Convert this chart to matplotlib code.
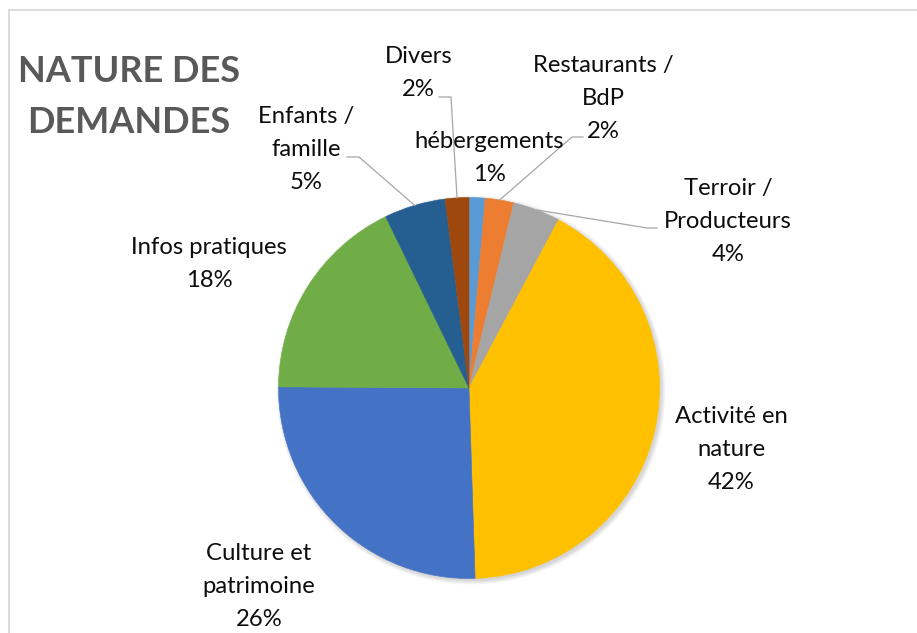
import numpy as np
import matplotlib.pyplot as plt
from matplotlib.patches import Circle

plt.rcParams['font.family'] = ['Lato', 'DejaVu Sans']

# data (share of requests, in %)
categories = ['hébergements', 'Restaurants /\nBdP', 'Terroir /\nProducteurs', 'Activité en\nnature',
              'Culture et\npatrimoine', 'Infos pratiques', 'Enfants /\nfamille', 'Divers']
values = [1.36, 2.42, 4.0, 41.7, 25.6, 17.7, 5.2, 2.0]
colors = ['#5B9BD5', '#ED7D31', '#A5A5A5', '#FFC000', '#4472C4', '#70AD47', '#255E91', '#9E480E']
title_lines = ['NATURE DES', 'DEMANDES']

# layout, in pixels from the top-left corner
W, H = 917, 633
cx, cy, R = 469, 388, 190.5
label_pos = [(489.5, 148), (603, 72), (728, 195), (731, 423),
             (259, 560), (209, 254), (306, 123), (418.5, 63)]   # x centre, first baseline
elbows = [None, [(572, 137), (583, 137)], [(647, 228), (657, 228)], None,
          None, None, [(359, 157), (347, 157)], [(451, 97), (439, 97)]]
line_gap = 33

fig = plt.figure(figsize=(W / 100, H / 100), dpi=100)
ax = fig.add_axes([0, 0, 1, 1])

# soft shadow under the pie
for i in range(7):
    ax.add_patch(Circle((cx + 2, H - cy - 2), R + i * 0.7, color='black', alpha=0.025, lw=0, zorder=0))

wedges, _ = ax.pie(values, colors=colors, startangle=90, counterclock=False,
                   center=(cx, H - cy), radius=R)
for w in wedges:
    w.set_zorder(1)
    w.set_edgecolor(w.get_facecolor())
    w.set_linewidth(0.4)

ax.set_xlim(0, W)
ax.set_ylim(0, H)
ax.set_aspect('equal')
ax.axis('off')

total = sum(values)
for w, cat, v, (lx, ly), elb in zip(wedges, categories, values, label_pos, elbows):
    lines = cat.split('\n') + [f'{round(v / total * 100)}%']
    for k, s in enumerate(lines):
        ax.text(lx, H - (ly + k * line_gap), s, ha='center', va='baseline',
                fontsize=17.2, color='#0D0D0D', zorder=3)
    if elb is not None:
        a = np.deg2rad((w.theta1 + w.theta2) / 2)
        xs = [cx + R * np.cos(a)] + [p[0] for p in elb]
        ys = [H - cy + R * np.sin(a)] + [H - p[1] for p in elb]
        ax.plot(xs, ys, color='#A6A6A6', lw=0.9, zorder=2)

for k, s in enumerate(title_lines):
    ax.text(129, H - (82 + k * 51), s, ha='center', va='baseline', fontsize=26,
            fontweight='bold', color='#595959')

# chart frame (only top and left edges are visible)
ax.plot([9, W], [H - 10, H - 10], color='#D9D9D9', lw=1.3)
ax.plot([9, 9], [H - 10, 0], color='#D9D9D9', lw=1.3)

fig.savefig('out.png', dpi=100)
